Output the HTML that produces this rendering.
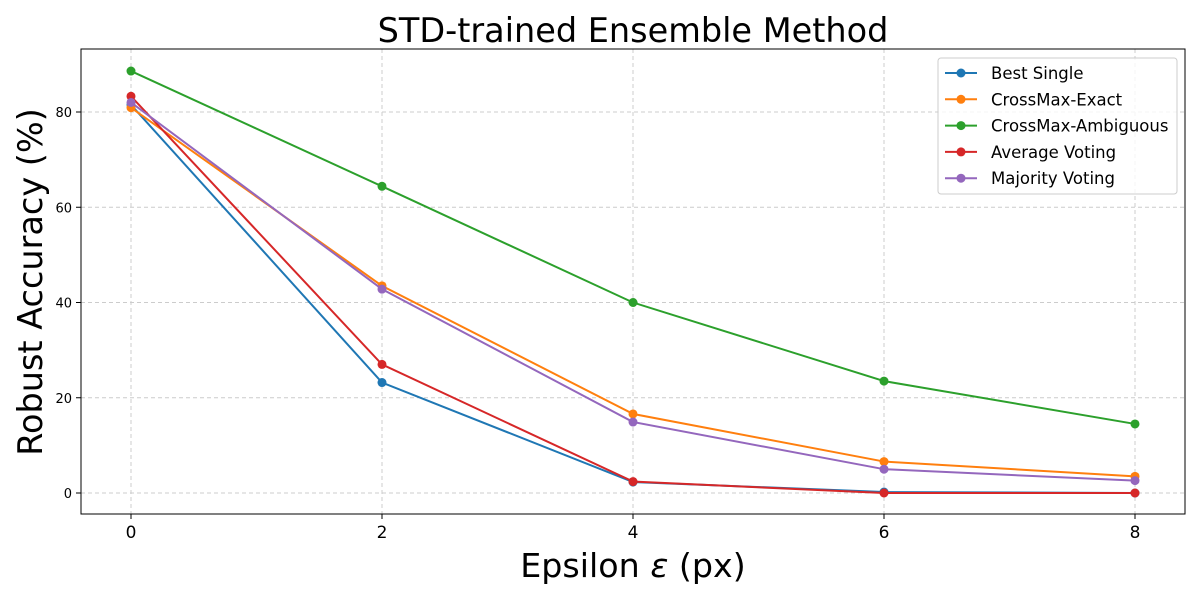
<!DOCTYPE html>
<html><head><meta charset="utf-8"><style>
body{margin:0;background:#fff;}
svg{font-family:"DejaVu Sans","Liberation Sans",sans-serif;}
</style></head><body>
<svg id="chart" width="1200" height="600">
<text x="633" y="42" font-size="33.5" text-anchor="middle">STD-trained Ensemble Method</text>
<g id="grid"></g>
<rect x="81" y="49" width="1104" height="465" fill="none" stroke="#000" stroke-width="1"/>
<g id="ticks"></g>
<g id="series"></g>
<text x="633" y="577" font-size="33.3" text-anchor="middle">Epsilon <tspan font-style="italic">ε</tspan> (px)</text>
<text transform="translate(42,282) rotate(-90)" font-size="33.5" text-anchor="middle">Robust Accuracy (%)</text>
<g id="legend"></g>
</svg>
<script>
const epsilons=[0,2,4,6,8];
const seriesNames=["Best Single","CrossMax-Exact","CrossMax-Ambiguous","Average Voting","Majority Voting"];
const bestSingle=[81.5,23.2,2.3,0.2,0.0];
const crossmaxExact=[80.9,43.5,16.6,6.6,3.5];
const crossmaxAmbiguous=[88.6,64.4,40.0,23.5,14.5];
const averageVoting=[83.3,27.0,2.4,0.0,0.0];
const majorityVoting=[82.0,42.8,14.9,5.0,2.6];
const xTicks=[0,2,4,6,8];
const yTicks=[0,20,40,60,80];
const colors=["#1f77b4","#ff7f0e","#2ca02c","#d62728","#9467bd"];
const allSeries=[bestSingle,crossmaxExact,crossmaxAmbiguous,averageVoting,majorityVoting];
const NS="http://www.w3.org/2000/svg";
function X(v){return 131+v*125.5;}
function Y(v){return 493-v*4.7625;}
function mk(t,a,p){const e=document.createElementNS(NS,t);for(const k in a)e.setAttribute(k,a[k]);p.appendChild(e);return e;}
const grid=document.getElementById('grid'),ticks=document.getElementById('ticks');
xTicks.forEach(t=>{
 const g=mk('line',{x1:X(t),x2:X(t),y1:49,y2:514,stroke:'#ccc','stroke-dasharray':'4,3'},grid);
 
 
 mk('line',{x1:X(t),x2:X(t),y1:514,y2:519,stroke:'#000'},ticks);
 const l=mk('text',{x:X(t),y:538,'font-size':17,'text-anchor':'middle'},ticks);l.textContent=t;
 
 
});
yTicks.forEach(t=>{
 const g=mk('line',{x1:81,x2:1185,y1:Y(t),y2:Y(t),stroke:'#ccc','stroke-dasharray':'4,3'},grid);
 
 
 mk('line',{x1:76,x2:81,y1:Y(t),y2:Y(t),stroke:'#000'},ticks);
 const l=mk('text',{x:72,y:Y(t)+5,'font-size':13,'text-anchor':'end'},ticks);l.textContent=t;
 
 
});
const sg=document.getElementById('series');
allSeries.forEach((s,i)=>{
 const pl=mk('polyline',{points:s.map((v,j)=>X(epsilons[j])+','+Y(v)).join(' '),fill:'none',stroke:colors[i],'stroke-width':2},sg);
 
 
 s.forEach((v,j)=>{
  const c=mk('circle',{cx:X(epsilons[j]),cy:Y(v),r:4.5,fill:colors[i]},sg);
  
  
 });
});
const lg=document.getElementById('legend');
const box=mk('rect',{x:938,y:58,width:239,height:136,rx:3,fill:'#fff','fill-opacity':0.8,stroke:'#ccc'},lg);


seriesNames.forEach((n,i)=>{
 const y=73+i*26.3;
 mk('line',{x1:945,x2:977,y1:y,y2:y,stroke:colors[i],'stroke-width':2},lg);
 mk('circle',{cx:961,cy:y,r:4.5,fill:colors[i]},lg);
 const t=mk('text',{x:991,y:y+6,'font-size':16.5},lg);t.textContent=n;
 
 
});
</script>
</body></html>
